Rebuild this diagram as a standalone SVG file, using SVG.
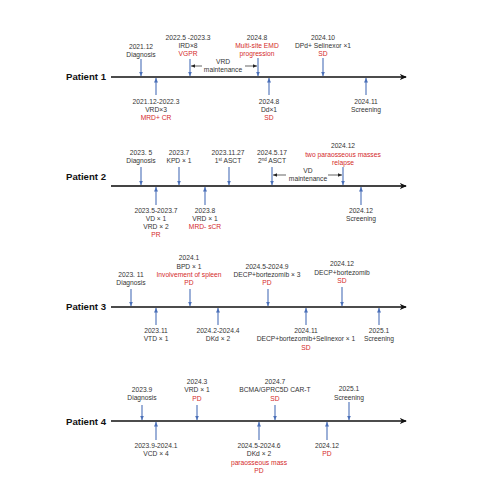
<svg xmlns="http://www.w3.org/2000/svg" width="497" height="483" viewBox="0 0 497 483">
<defs>
<marker id="ba" viewBox="0 0 6 6" refX="6" refY="3" markerWidth="4.5" markerHeight="4.5" markerUnits="userSpaceOnUse" orient="auto"><path d="M0,0.3 L6,3 L0,5.7 Z" fill="#4a6fb8"/></marker>
<marker id="ka" viewBox="0 0 6 6" refX="6" refY="3" markerWidth="4" markerHeight="4" markerUnits="userSpaceOnUse" orient="auto"><path d="M0,0.5 L6,3 L0,5.5 Z" fill="#222"/></marker>
<marker id="ta" viewBox="0 0 8 8" refX="7" refY="4" markerWidth="7" markerHeight="7" markerUnits="userSpaceOnUse" orient="auto"><path d="M0,0.5 L8,4 L0,7.5 L2.2,4 Z" fill="#111"/></marker>
</defs>
<style>
text{font-family:"Liberation Sans",Arial,sans-serif;font-size:6.7px;fill:#333;text-anchor:middle}
.r{fill:#d42a2a}
.p{font-size:9.6px;font-weight:bold;fill:#111;text-anchor:end}
.tl{stroke:#111;stroke-width:1.4;fill:none}
.ev{stroke:#4a6fb8;stroke-width:1.1;fill:none}
.mt{stroke:#222;stroke-width:0.7;fill:none}
.sup{font-size:4.5px}
</style>
<rect width="497" height="483" fill="#fff"/>
<g id="connectors">
<line class="tl" x1="111" y1="77" x2="406" y2="77" marker-end="url(#ta)"/>
<line class="tl" x1="111" y1="186" x2="406" y2="186" marker-end="url(#ta)" style="stroke:#444;stroke-width:1.8"/>
<line class="tl" x1="111" y1="307" x2="406" y2="307" marker-end="url(#ta)"/>
<line class="tl" x1="111" y1="421" x2="406" y2="421" marker-end="url(#ta)"/>
<line class="ev" x1="141" y1="59" x2="141" y2="76" marker-end="url(#ba)"/>
<line class="ev" x1="190" y1="59" x2="190" y2="76" marker-end="url(#ba)"/>
<line class="ev" x1="258" y1="58" x2="258" y2="76" marker-end="url(#ba)"/>
<line class="ev" x1="323" y1="58" x2="323" y2="76" marker-end="url(#ba)"/>
<line class="ev" x1="156" y1="95" x2="156" y2="78" marker-end="url(#ba)"/>
<line class="ev" x1="269" y1="95" x2="269" y2="78" marker-end="url(#ba)"/>
<line class="ev" x1="366" y1="95" x2="366" y2="78" marker-end="url(#ba)"/>
<line class="mt" x1="202" y1="66" x2="191" y2="66" marker-end="url(#ka)"/>
<line class="mt" x1="245" y1="66" x2="257" y2="66" marker-end="url(#ka)"/>
<line class="ev" x1="141" y1="167" x2="141" y2="185" marker-end="url(#ba)"/>
<line class="ev" x1="179" y1="167" x2="179" y2="185" marker-end="url(#ba)"/>
<line class="ev" x1="229" y1="167" x2="229" y2="185" marker-end="url(#ba)"/>
<line class="ev" x1="272" y1="167" x2="272" y2="185" marker-end="url(#ba)"/>
<line class="ev" x1="343" y1="167" x2="343" y2="185" marker-end="url(#ba)"/>
<line class="ev" x1="156" y1="205" x2="156" y2="187" marker-end="url(#ba)"/>
<line class="ev" x1="205" y1="205" x2="205" y2="187" marker-end="url(#ba)"/>
<line class="ev" x1="361" y1="205" x2="361" y2="187" marker-end="url(#ba)"/>
<line class="mt" x1="286" y1="175" x2="273" y2="175" marker-end="url(#ka)"/>
<line class="mt" x1="328" y1="175" x2="342" y2="175" marker-end="url(#ka)"/>
<line class="ev" x1="131" y1="289" x2="131" y2="306" marker-end="url(#ba)"/>
<line class="ev" x1="190" y1="289" x2="190" y2="306" marker-end="url(#ba)"/>
<line class="ev" x1="268" y1="289" x2="268" y2="306" marker-end="url(#ba)"/>
<line class="ev" x1="342" y1="287" x2="342" y2="306" marker-end="url(#ba)"/>
<line class="ev" x1="156" y1="325" x2="156" y2="308" marker-end="url(#ba)"/>
<line class="ev" x1="218" y1="325" x2="218" y2="308" marker-end="url(#ba)"/>
<line class="ev" x1="306" y1="325" x2="306" y2="308" marker-end="url(#ba)"/>
<line class="ev" x1="379" y1="325" x2="379" y2="308" marker-end="url(#ba)"/>
<line class="ev" x1="142" y1="405" x2="142" y2="420" marker-end="url(#ba)"/>
<line class="ev" x1="197" y1="405" x2="197" y2="420" marker-end="url(#ba)"/>
<line class="ev" x1="275" y1="405" x2="275" y2="420" marker-end="url(#ba)"/>
<line class="ev" x1="349" y1="402" x2="349" y2="420" marker-end="url(#ba)"/>
<line class="ev" x1="156" y1="440" x2="156" y2="422" marker-end="url(#ba)"/>
<line class="ev" x1="259" y1="440" x2="259" y2="422" marker-end="url(#ba)"/>
<line class="ev" x1="327" y1="440" x2="327" y2="422" marker-end="url(#ba)"/>
</g>
<g id="p1-label"><text class="p" x="106" y="80">Patient 1</text></g>
<g id="p1-diag"><text x="141" y="48.5">2021.12</text><text x="141" y="56.5">Diagnosis</text></g>
<g id="p1-ird"><text x="188" y="39.5">2022.5 -2023.3</text><text x="188" y="47.8">IRD×8</text><text class="r" x="188" y="56.1">VGPR</text></g>
<g id="p1-maint"><text x="223" y="64.4">VRD</text><text x="223" y="72.4">maintenance</text></g>
<g id="p1-emd"><text x="257" y="39.5">2024.8</text><text class="r" x="257" y="47.8">Multi-site EMD</text><text class="r" x="257" y="56.1">progression</text></g>
<g id="p1-dpd"><text x="323" y="39.5">2024.10</text><text x="323" y="47.8">DPd+ Selinexor ×1</text><text class="r" x="323" y="56.1">SD</text></g>
<g id="p1-vrd"><text x="156" y="104">2021.12-2022.3</text><text x="156" y="111.8">VRD×3</text><text class="r" x="156" y="119.8">MRD+ CR</text></g>
<g id="p1-dd"><text x="269" y="104">2024.8</text><text x="269" y="111.8">Dd×1</text><text class="r" x="269" y="119.8">SD</text></g>
<g id="p1-screen"><text x="366" y="104">2024.11</text><text x="366" y="111.8">Screening</text></g>
<g id="p2-label"><text class="p" x="106" y="180">Patient 2</text></g>
<g id="p2-diag"><text x="141" y="155.4">2023. 5</text><text x="141" y="163.4">Diagnosis</text></g>
<g id="p2-kpd"><text x="179" y="155.4">2023.7</text><text x="179" y="163.4">KPD × 1</text></g>
<g id="p2-asct1"><text x="228" y="155.4">2023.11.27</text><text x="228" y="163.4">1<tspan class="sup" dy="-2">st</tspan><tspan dy="2"> ASCT</tspan></text></g>
<g id="p2-asct2"><text x="272" y="155.4">2024.5.17</text><text x="272" y="163.4">2<tspan class="sup" dy="-2">nd</tspan><tspan dy="2"> ASCT</tspan></text></g>
<g id="p2-maint"><text x="308" y="173.4">VD</text><text x="308" y="180.6">maintenance</text></g>
<g id="p2-relapse"><text x="343" y="148.4">2024.12</text><text class="r" x="343" y="156.6">two paraosseous masses</text><text class="r" x="343" y="164.8">relapse</text></g>
<g id="p2-vd"><text x="156" y="213">2023.5-2023.7</text><text x="156" y="221">VD × 1</text><text x="156" y="229">VRD × 2</text><text class="r" x="156" y="237">PR</text></g>
<g id="p2-vrd"><text x="205" y="213">2023.8</text><text x="205" y="221">VRD × 1</text><text class="r" x="205" y="229">MRD- sCR</text></g>
<g id="p2-screen"><text x="361" y="213">2024.12</text><text x="361" y="221">Screening</text></g>
<g id="p3-label"><text class="p" x="106" y="310">Patient 3</text></g>
<g id="p3-diag"><text x="131" y="277.4">2023. 11</text><text x="131" y="285.4">Diagnosis</text></g>
<g id="p3-bpd"><text x="189" y="260.2">2024.1</text><text x="189" y="268.6">BPD × 1</text><text class="r" x="189" y="277">Involvement of spleen</text><text class="r" x="189" y="285.4">PD</text></g>
<g id="p3-decp3"><text x="267" y="268.6">2024.5-2024.9</text><text x="267" y="277">DECP+bortezomib  × 3</text><text class="r" x="267" y="285.4">PD</text></g>
<g id="p3-decp"><text x="342" y="266.4">2024.12</text><text x="342" y="275">DECP+bortezomib</text><text class="r" x="342" y="283.2">SD</text></g>
<g id="p3-vtd"><text x="156" y="333.4">2023.11</text><text x="156" y="341.4">VTD × 1</text></g>
<g id="p3-dkd"><text x="218" y="333.4">2024.2-2024.4</text><text x="218" y="341.4">DKd × 2</text></g>
<g id="p3-sel"><text x="306" y="333.4">2024.11</text><text x="306" y="341.4">DECP+bortezomib+Selinexor × 1</text><text class="r" x="306" y="349.6">SD</text></g>
<g id="p3-screen"><text x="379" y="333.4">2025.1</text><text x="379" y="341.4">Screening</text></g>
<g id="p4-label"><text class="p" x="106" y="425">Patient 4</text></g>
<g id="p4-diag"><text x="142" y="392.4">2023.9</text><text x="142" y="400.4">Diagnosis</text></g>
<g id="p4-vrd"><text x="197" y="384.2">2024.3</text><text x="197" y="392.4">VRD × 1</text><text class="r" x="197" y="400.6">PD</text></g>
<g id="p4-cart"><text x="275" y="384.2">2024.7</text><text x="275" y="392.4">BCMA/GPRC5D CAR-T</text><text class="r" x="275" y="400.6">SD</text></g>
<g id="p4-screen"><text x="349" y="391.4">2025.1</text><text x="349" y="399.6">Screening</text></g>
<g id="p4-vcd"><text x="156" y="448.4">2023.9-2024.1</text><text x="156" y="456.4">VCD × 4</text></g>
<g id="p4-dkd"><text x="259" y="448.4">2024.5-2024.6</text><text x="259" y="456.4">DKd × 2</text><text class="r" x="259" y="464.6">paraosseous mass</text><text class="r" x="259" y="472.8">PD</text></g>
<g id="p4-pd"><text x="327" y="448.4">2024.12</text><text class="r" x="327" y="456.4">PD</text></g>
</svg>
